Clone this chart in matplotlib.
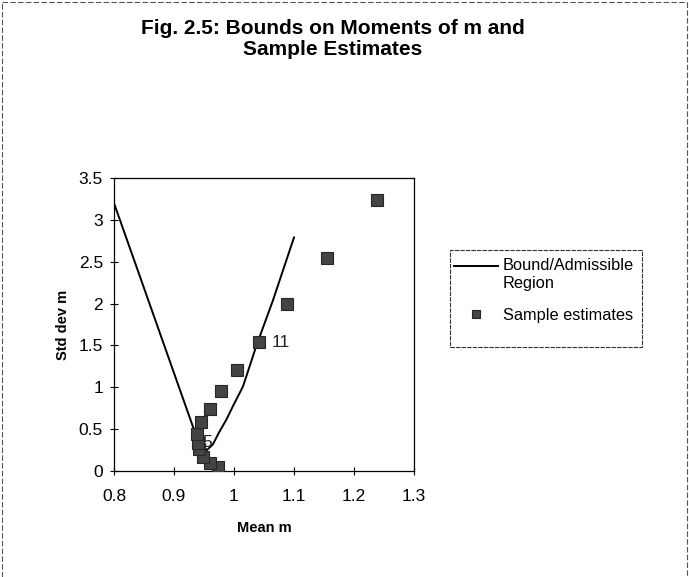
import numpy as np
import matplotlib
matplotlib.use("Agg")
import matplotlib.pyplot as plt
from matplotlib.ticker import FuncFormatter, MultipleLocator
from matplotlib.lines import Line2D
from matplotlib.patches import Rectangle
from matplotlib.legend_handler import HandlerLine2D

plt.rcParams['font.family'] = ['Liberation Sans', 'DejaVu Sans']

# bound / admissible region curve
bound_x = [0.8, 0.935, 0.945, 0.955, 0.965, 0.975, 0.987, 1.0, 1.015, 1.037, 1.065, 1.1]
bound_y = [3.2, 0.46, 0.31, 0.25, 0.32, 0.46, 0.61, 0.8, 1.01, 1.49, 2.04, 2.79]

# sample estimates (numbered 1..14 from the bottom)
est_x = [0.973, 0.960, 0.948, 0.942, 0.940, 0.939, 0.945, 0.960, 0.978, 1.005, 1.0425, 1.089, 1.155, 1.2386]
est_y = [0.05, 0.10, 0.17, 0.26, 0.34, 0.44, 0.58, 0.74, 0.95, 1.21, 1.54, 1.99, 2.55, 3.24]
point_labels = {4: "5", 10: "11"}

xticks = [0.8, 0.9, 1.0, 1.1, 1.2, 1.3]


class TopLineHandler(HandlerLine2D):
    # put the legend line next to the first text row, like excel does
    def create_artists(self, legend, orig_handle, xdescent, ydescent, width, height, fontsize, trans):
        arts = super().create_artists(legend, orig_handle, xdescent, ydescent, width, height, fontsize, trans)
        for a in arts:
            a.set_ydata(np.asarray(a.get_ydata()) + 0.55 * fontsize)
        return arts


fig = plt.figure(figsize=(6.89, 5.77), dpi=100)
ax = fig.add_axes([114/689, 1-471/577, 300/689, 293/577])

bound_line, = ax.plot(bound_x, bound_y, color='black', lw=1.4, label='Bound/Admissible\nRegion', zorder=2)
ax.plot(est_x, est_y, ls='none', marker='s', ms=8, mfc='#444444', mec='#262626',
        mew=0.8, label='Sample estimates', zorder=3)

for i, txt in point_labels.items():
    off = 9 if txt == "11" else 3
    ax.annotate(txt, (est_x[i], est_y[i]), xytext=(off, 0), textcoords='offset points',
                va='center', ha='left', fontsize=12.5, color='#222222', zorder=4)

ax.set_xlim(0.8, 1.3)
ax.set_ylim(0, 3.5)
ax.set_xticks(xticks)
ax.yaxis.set_major_locator(MultipleLocator(0.5))
fmt = FuncFormatter(lambda v, p: '%g' % round(v, 2))
ax.xaxis.set_major_formatter(fmt)
ax.yaxis.set_major_formatter(fmt)
ax.tick_params(direction='inout', length=6, width=0.8, labelsize=12.5)
ax.tick_params(axis='x', pad=10)
ax.tick_params(axis='y', pad=5)
for s in ax.spines.values():
    s.set_linewidth(0.9)

ax.set_xlabel('Mean m', fontweight='bold', fontsize=10.5, labelpad=12)
ax.set_ylabel('Std dev m', fontweight='bold', fontsize=10.5, labelpad=6)

fig.text(0.483, 0.932, 'Fig. 2.5: Bounds on Moments of m and\nSample Estimates',
         ha='center', va='center', fontweight='bold', fontsize=15, linespacing=1.15)

leg = ax.legend(loc='upper left', bbox_to_anchor=(451/689, 1-255/577),
                bbox_transform=fig.transFigure, frameon=False,
                fontsize=11.8, handlelength=2.65, handletextpad=0.3, markerscale=0.75,
                borderpad=0.2, labelspacing=1.05, borderaxespad=0,
                handler_map={bound_line: TopLineHandler()})

# legend box (taller than the entries, as in the original)
fig.add_artist(Rectangle((450/689, 1-347/577), 192/689, 97/577, transform=fig.transFigure,
                         fill=False, ec='#333333', lw=0.8, ls=(0, (4, 1))))

# scanned page border
for xs, ys in [([2, 2], [0, 575]), ([2, 687], [575, 575]), ([687, 687], [575, 0])]:
    fig.add_artist(Line2D([x/689 for x in xs], [y/577 for y in ys],
                          color='#555555', lw=0.8, ls=(0, (5, 2))))

fig.savefig('out.png', dpi=100)
